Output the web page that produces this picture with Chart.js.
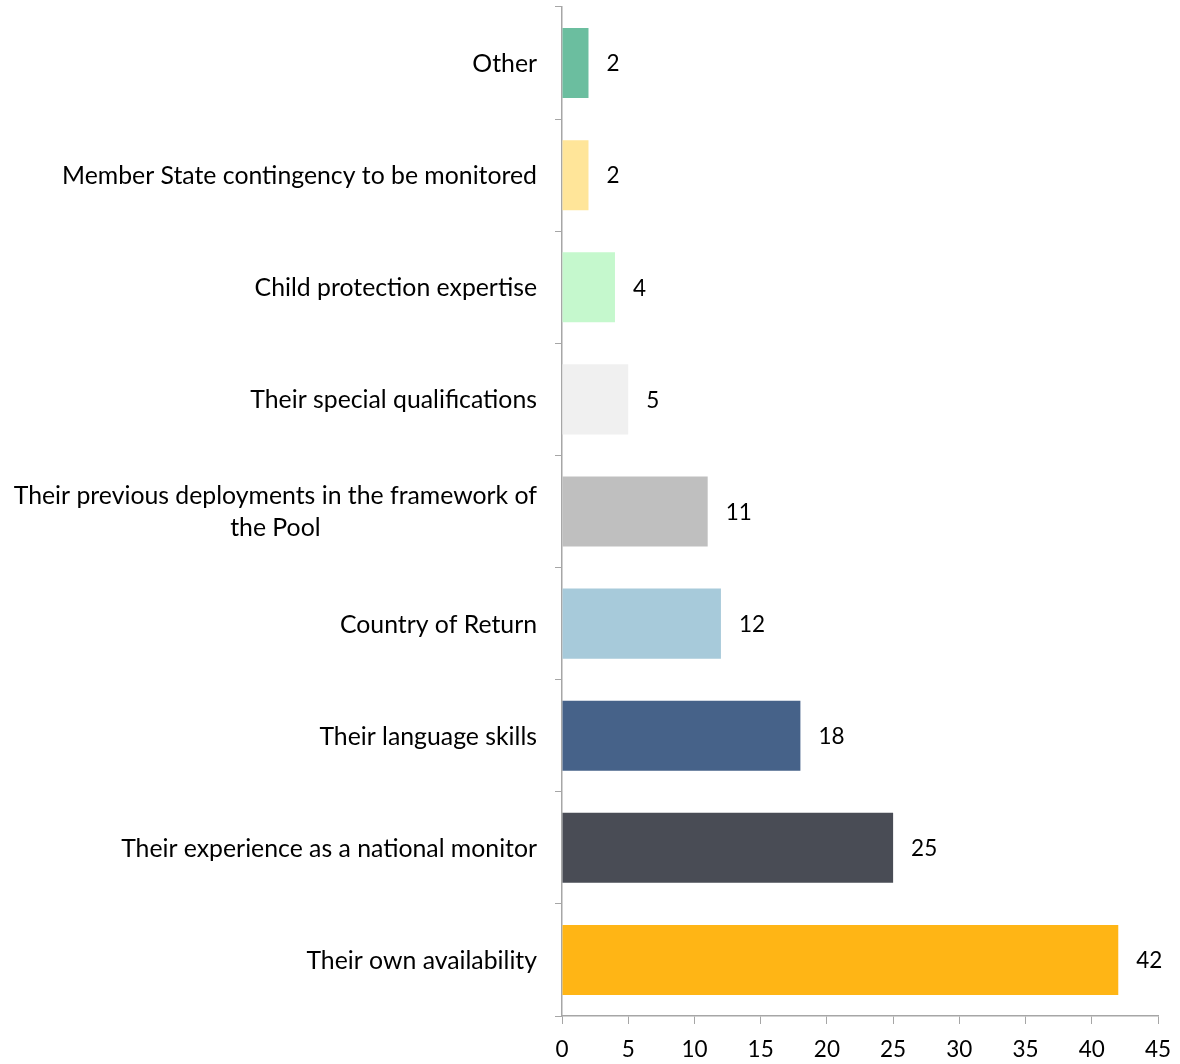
<!DOCTYPE html>
<html>
<head>
<meta charset="utf-8">
<script src="https://cdn.jsdelivr.net/npm/chart.js@4/dist/chart.umd.min.js"></script>
<style>
  html, body { margin: 0; padding: 0; background: #ffffff; }
  #wrap { width: 1180px; height: 1064px; position: relative; }
</style>
</head>
<body>
<div id="wrap"><canvas id="chart" width="1180" height="1064"></canvas></div>
<script>
// Reasons given for being selected, top to bottom
const categories = [
  'Other',
  'Member State contingency to be monitored',
  'Child protection expertise',
  'Their special qualifications',
  ['Their previous deployments in the framework of', 'the Pool'],
  'Country of Return',
  'Their language skills',
  'Their experience as a national monitor',
  'Their own availability'
];
const counts = [2, 2, 4, 5, 11, 12, 18, 25, 42];
const barColors = [
  '#6bbe9f', '#ffe599', '#c5f8cd', '#f0f0f0', '#bfbfbf',
  '#a7cada', '#466289', '#494c55', '#ffb515'
];
const xTicks = [0, 5, 10, 15, 20, 25, 30, 35, 40, 45];

const FONT = 'Lato, "Open Sans", sans-serif';
const AXIS_GREY = '#a6a6a6';
const LABEL_SIZE = 24.8;
const LABEL_LINE = 32;
const LABEL_GAP = 25;

// Category names: each block sits right-aligned against the axis,
// with the lines of a wrapped name centred on one another
const categoryLabels = {
  id: 'categoryLabels',
  afterDraw(chart) {
    const ctx = chart.ctx;
    const y = chart.scales.y;
    ctx.save();
    ctx.font = LABEL_SIZE + 'px ' + FONT;
    ctx.fillStyle = '#000000';
    ctx.textBaseline = 'middle';
    ctx.textAlign = 'center';
    const right = y.right - LABEL_GAP;
    categories.forEach((name, i) => {
      const lines = Array.isArray(name) ? name : [name];
      const widest = Math.max(...lines.map(l => ctx.measureText(l).width));
      const cx = right - widest / 2;
      const cy = y.getPixelForValue(i) + 1;
      const top = cy - (lines.length - 1) * LABEL_LINE / 2;
      lines.forEach((l, k) => ctx.fillText(l, cx, top + k * LABEL_LINE));
    });
    ctx.restore();
  }
};

// Writes each bar's value just past its end
const valueLabels = {
  id: 'valueLabels',
  afterDatasetsDraw(chart) {
    const ctx = chart.ctx;
    const meta = chart.getDatasetMeta(0);
    ctx.save();
    ctx.font = '22.5px ' + FONT;
    ctx.fillStyle = '#000000';
    ctx.textAlign = 'left';
    ctx.textBaseline = 'middle';
    meta.data.forEach((bar, i) => {
      ctx.fillText(String(counts[i]), bar.x + 18, bar.y + 1);
    });
    ctx.restore();
  }
};

new Chart(document.getElementById('chart'), {
  type: 'bar',
  data: {
    labels: categories,
    datasets: [{
      data: counts,
      backgroundColor: barColors,
      borderWidth: 0,
      barPercentage: 0.625,
      categoryPercentage: 1.0
    }]
  },
  options: {
    indexAxis: 'y',
    responsive: false,
    animation: false,
    layout: { padding: { top: 7, right: 22, left: 0, bottom: 0 } },
    plugins: {
      legend: { display: false },
      tooltip: { enabled: false }
    },
    scales: {
      x: {
        min: 0,
        max: 45,
        afterBuildTicks(scale) {
          scale.ticks = xTicks.map(v => ({ value: v }));
        },
        afterFit(scale) {
          scale.height = 48;
          scale.paddingLeft = 0;
          scale.paddingRight = 0;
        },
        grid: {
          drawOnChartArea: false,
          drawTicks: true,
          tickLength: 8,
          color: AXIS_GREY,
          lineWidth: 1
        },
        border: { display: true, color: AXIS_GREY, width: 1.5 },
        ticks: {
          color: '#000000',
          font: { family: FONT, size: 22.5 },
          padding: 12,
          maxRotation: 0
        }
      },
      y: {
        afterFit(scale) { scale.width = 562; },
        grid: {
          drawOnChartArea: false,
          drawTicks: true,
          tickLength: 7,
          offset: true,
          color: AXIS_GREY,
          lineWidth: 1
        },
        border: { display: true, color: AXIS_GREY, width: 1.5 },
        ticks: { display: false }
      }
    }
  },
  plugins: [categoryLabels, valueLabels]
});
</script>
</body>
</html>
